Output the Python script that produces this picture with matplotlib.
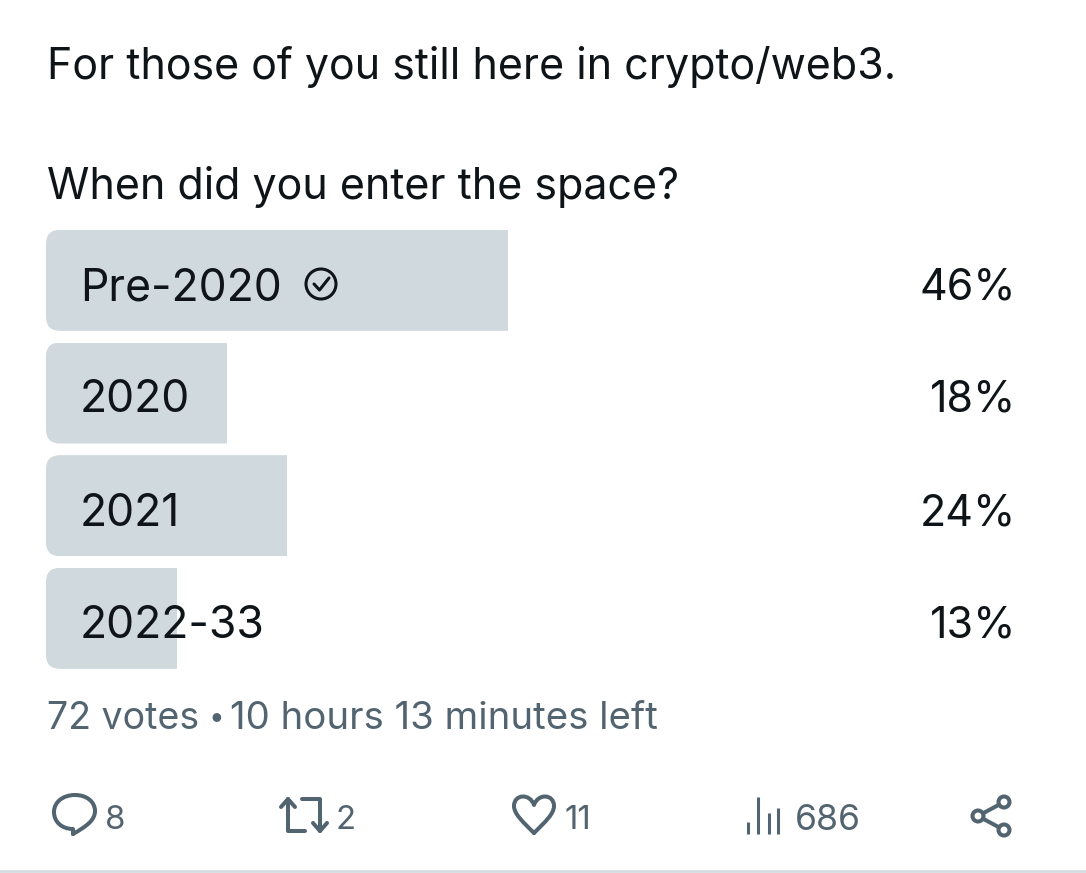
import matplotlib
matplotlib.use("Agg")
import matplotlib.pyplot as plt
from matplotlib.patches import FancyBboxPatch, Circle, PathPatch
from matplotlib.path import Path

categories = ["Pre-2020", "2020", "2021", "2022-33"]
percents = [46, 18, 24, 13]
pct_labels = ["46%", "18%", "24%", "13%"]
title_lines = ["For those of you still here in crypto/web3.", "When did you enter the space?"]
footer_votes = "72 votes"
footer_sep = "\u2022"
footer_time = "10 hours 13 minutes left"
reply_count, repost_count, like_count, view_count = "8", "2", "11", "686"

W, H = 1086, 873
DARK, GREY, BAR = "#0f1419", "#536471", "#cfd9de"
plt.rcParams["font.family"] = ["Inter", "DejaVu Sans"]
fig = plt.figure(figsize=(W / 100, H / 100), dpi=100, facecolor="white")
PT = 72 / 100

top, row = 224, 112.67
ax = fig.add_axes([46 / W, 1 - (top + 4 * row) / H, 1004 / W, 4 * row / H])
ax.set_xlim(0, 100)
ax.set_ylim(3.5, -0.5)
ax.axis("off")
bars = ax.barh(range(4), percents, height=101 / row, color=BAR, linewidth=0)
for b in bars:
    x0, y0 = ax.transData.transform((b.get_x(), b.get_y()))
    x1, y1 = ax.transData.transform((b.get_x() + b.get_width() + 2, b.get_y() + b.get_height()))
    clip = FancyBboxPatch((x0 + 14, min(y0, y1) + 14), x1 - x0 - 28, abs(y1 - y0) - 28,
                          boxstyle="round,pad=14,rounding_size=14", transform=None, fc="none", ec="none")
    b.set_clip_path(clip)

ov = fig.add_axes([0, 0, 1, 1], facecolor="none")
ov.set_xlim(0, W)
ov.set_ylim(H, 0)
ov.axis("off")
ts = 43 * PT
ov.text(47, 62, title_lines[0], fontsize=ts, color=DARK, va="center_baseline", ha="left")
ov.text(47, 182, title_lines[1], fontsize=ts, color=DARK, va="center_baseline", ha="left")
ys = [284, 396, 509, 621]
for y, c, p in zip(ys, categories, pct_labels):
    ov.text(80, y, c, fontsize=44.5 * PT, color=DARK, va="center_baseline", ha="left")
    ov.text(1016, y, p, fontsize=43 * PT, color=DARK, va="center_baseline", ha="right")
ov.text(47, 715, footer_votes, fontsize=37.5 * PT, color=GREY, va="center_baseline", ha="left")
ov.text(216, 715, footer_sep, fontsize=28 * PT, color=GREY, va="center_baseline", ha="center")
ov.text(230, 715, footer_time, fontsize=38.4 * PT, color=GREY, va="center_baseline", ha="left")

ov.add_patch(Circle((321, 284), 15, fc="none", ec=DARK, lw=2.2))
ov.plot([314, 319.5, 329], [284, 290, 278], color=DARK, lw=2.2, solid_capstyle="round")

def stroke(verts, codes=None, lw=3.0, fc="none"):
    ov.add_patch(PathPatch(Path(verts, codes), fc=fc, ec=GREY, lw=lw, capstyle="round", joinstyle="round"))

C4, L, M = Path.CURVE4, Path.LINETO, Path.MOVETO
# reply bubble
stroke([(73, 834), (73, 829), (62, 829), (54, 822), (54, 812), (54, 802), (63, 795), (75, 795),
        (87, 795), (95, 802), (95, 811), (95, 820), (87, 826), (73, 834)],
       [M, L] + [C4] * 12, lw=2.9)
ov.text(105, 817, reply_count, fontsize=33 * PT, color=GREY, va="center_baseline", ha="left")
# repost arrows
stroke([(288, 799), (288, 826), (288, 831), (293, 831), (305, 831)], lw=2.9)
stroke([(281, 807), (288, 799), (295, 807)], lw=2.9)
stroke([(302, 799), (314, 799), (320, 799), (320, 804), (320, 831)], lw=2.9)
stroke([(313, 823), (320, 831), (327, 823)], lw=2.9)
ov.text(335, 817, repost_count, fontsize=33 * PT, color=GREY, va="center_baseline", ha="left")
# heart
stroke([(534, 833), (523, 822), (514, 814), (514, 806), (514, 794), (530, 793), (534, 805),
        (538, 793), (554, 794), (554, 806), (554, 814), (545, 822), (534, 833)],
       [M, C4, C4, C4, C4, C4, C4, C4, C4, C4, C4, C4, C4], lw=2.9)
ov.text(565, 817, like_count, fontsize=33 * PT, color=GREY, va="center_baseline", ha="left")
# views
for x, y0 in zip([748, 758, 769, 778], [822, 797, 813, 808]):
    ov.plot([x, x], [y0, 834], color=GREY, lw=2.2, solid_capstyle="butt")
ov.text(795, 817, view_count, fontsize=35.5 * PT, color=GREY, va="center_baseline", ha="left")
# share nodes
for cx, cy in [(1004, 802), (978, 816), (1004, 830)]:
    ov.add_patch(Circle((cx, cy), 5.5, fc="white", ec=GREY, lw=2.9, zorder=3))
ov.plot([1004, 978, 1004], [802, 816, 830], color=GREY, lw=2.9, zorder=2)

ov.plot([0, W], [871, 871], color="#d5dde1", lw=2)

fig.savefig("out.png", dpi=100, facecolor="white")
